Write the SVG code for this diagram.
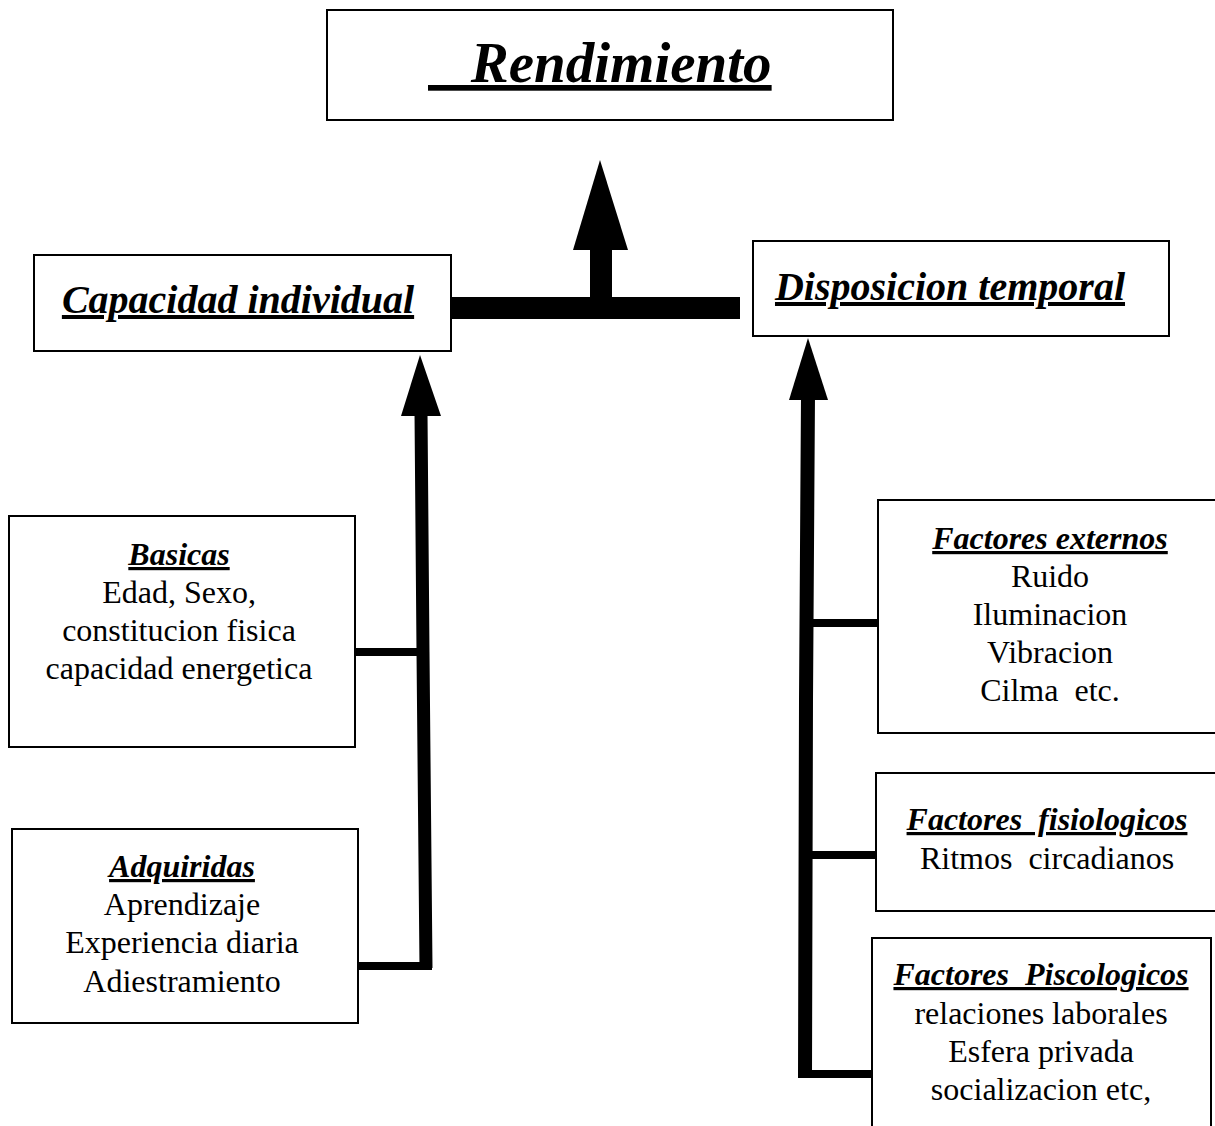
<svg xmlns="http://www.w3.org/2000/svg" width="1215" height="1126" viewBox="0 0 1215 1126">
<style>
.box{fill:#fff;stroke:#000;stroke-width:2}
.t{font-family:"Liberation Serif","Times New Roman",serif;fill:#000;text-anchor:middle}
.h{font-weight:bold;font-style:italic;text-decoration:underline}
.b{font-size:32px}
.line{stroke:#000;fill:none}
</style>
<rect width="1215" height="1126" fill="#fff"/>
<g id="connectors">
  <rect x="451" y="297" width="289" height="22" fill="#000"/>
  <rect x="590" y="245" width="22" height="53" fill="#000"/>
  <polygon points="600,160 573,250 628,250" fill="#000"/>
  <polyline class="line" stroke-width="13" points="421,412 423,652 426,968"/>
  <polygon points="420,355 401,416 441,416" fill="#000"/>
  <line class="line" stroke-width="8" x1="355" y1="652" x2="423" y2="652"/>
  <line class="line" stroke-width="8" x1="358" y1="966" x2="432" y2="966"/>
  <polyline class="line" stroke-width="14" points="808,395 806,700 805,1076"/>
  <polygon points="808,338 789,400 828,400" fill="#000"/>
  <line class="line" stroke-width="8" x1="806" y1="623" x2="879" y2="623"/>
  <line class="line" stroke-width="8" x1="806" y1="855" x2="877" y2="855"/>
  <line class="line" stroke-width="8" x1="798" y1="1074" x2="873" y2="1074"/>
</g>
<g id="rendimiento">
  <rect class="box" x="327" y="10" width="566" height="110"/>
  <text class="t h" x="428" y="82" font-size="57" text-anchor="start" style="text-anchor:start" xml:space="preserve">   Rendimiento</text>
</g>
<g id="capacidad">
  <rect class="box" x="34" y="255" width="417" height="96"/>
  <text class="t h" x="238" y="313" font-size="40">Capacidad individual</text>
</g>
<g id="disposicion">
  <rect class="box" x="753" y="241" width="416" height="95"/>
  <text class="t h" x="950" y="300" font-size="40">Disposicion temporal</text>
</g>
<g id="basicas">
  <rect class="box" x="9" y="516" width="346" height="231"/>
  <text class="t h b" x="179" y="565">Basicas</text>
  <text class="t b" x="179" y="603">Edad, Sexo,</text>
  <text class="t b" x="179" y="641">constitucion fisica</text>
  <text class="t b" x="179" y="679">capacidad energetica</text>
</g>
<g id="adquiridas">
  <rect class="box" x="12" y="829" width="346" height="194"/>
  <text class="t h b" x="182" y="877">Adquiridas</text>
  <text class="t b" x="182" y="915">Aprendizaje</text>
  <text class="t b" x="182" y="953">Experiencia diaria</text>
  <text class="t b" x="182" y="992">Adiestramiento</text>
</g>
<g id="externos">
  <rect class="box" x="878" y="500" width="345" height="233"/>
  <text class="t h b" x="1050" y="549">Factores externos</text>
  <text class="t b" x="1050" y="587">Ruido</text>
  <text class="t b" x="1050" y="625">Iluminacion</text>
  <text class="t b" x="1050" y="663">Vibracion</text>
  <text class="t b" x="1050" y="701" xml:space="preserve">Cilma  etc.</text>
</g>
<g id="fisiologicos">
  <rect class="box" x="876" y="773" width="345" height="138"/>
  <text class="t h b" x="1047" y="830" xml:space="preserve">Factores  fisiologicos</text>
  <text class="t b" x="1047" y="869" xml:space="preserve">Ritmos  circadianos</text>
</g>
<g id="piscologicos">
  <rect class="box" x="872" y="938" width="339" height="200"/>
  <text class="t h b" x="1041" y="985" xml:space="preserve">Factores  Piscologicos</text>
  <text class="t b" x="1041" y="1024">relaciones laborales</text>
  <text class="t b" x="1041" y="1062">Esfera privada</text>
  <text class="t b" x="1041" y="1100">socializacion etc,</text>
</g>
</svg>
